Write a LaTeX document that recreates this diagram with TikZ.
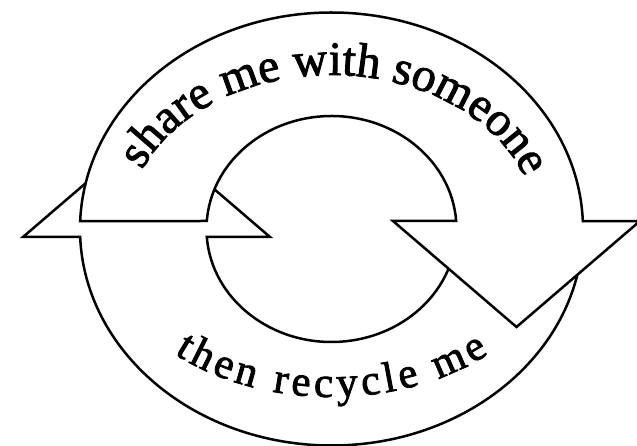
\documentclass[tikz,border=0pt]{standalone}
\usepackage{fontspec}
\setmainfont{Liberation Serif}
\newfontfamily\heavyserif{Liberation Serif}[FakeBold=1.8]
\usetikzlibrary{decorations.text}
\newcommand\topfont{\heavyserif\fontsize{48pt}{52pt}\selectfont}
\newcommand\botfont{\heavyserif\fontsize{43pt}{47pt}\selectfont}
\tikzset{
  arrowband/.style={draw=black, fill=white, line width=2.5pt, line join=miter},
}
\begin{document}
\begin{tikzpicture}[x=1pt,y=1pt]
\useasboundingbox[fill=white] (-331.5,-217) rectangle (305.5,229);
% lower arrow (pointing up at the left), drawn first
\draw[arrowband] (357.9:251.5 and 216.5)
  arc[start angle=357.9, end angle=182.1, x radius=251.5, y radius=216.5]
  -- (-308.5,-8) -- (-185,98) -- (-61.5,-8)
  -- (184.06:125 and 113)
  arc[start angle=184.06, end angle=355.94, x radius=125, y radius=113]
  -- cycle;
% upper arrow (pointing down at the right), on top
\draw[arrowband] (177.9:251.5 and 216.5)
  arc[start angle=177.9, end angle=2.1, x radius=251.5, y radius=216.5]
  -- (308.5,8) -- (185,-98) -- (61.5,8)
  -- (4.06:125 and 113)
  arc[start angle=4.06, end angle=175.94, x radius=125, y radius=113]
  -- cycle;
% texts
\path[decorate, decoration={text along path, text={|\topfont|share me with someone}, text align={fit to path}}]
  (157.5:205 and 154) arc[start angle=157.5, end angle=22.5, x radius=205, y radius=154];
\path[decorate, decoration={text along path, text={|\botfont|then recycle me}, text align={fit to path}}]
  (228:235 and 168) arc[start angle=228, end angle=312, x radius=235, y radius=168];
\end{tikzpicture}
\end{document}
